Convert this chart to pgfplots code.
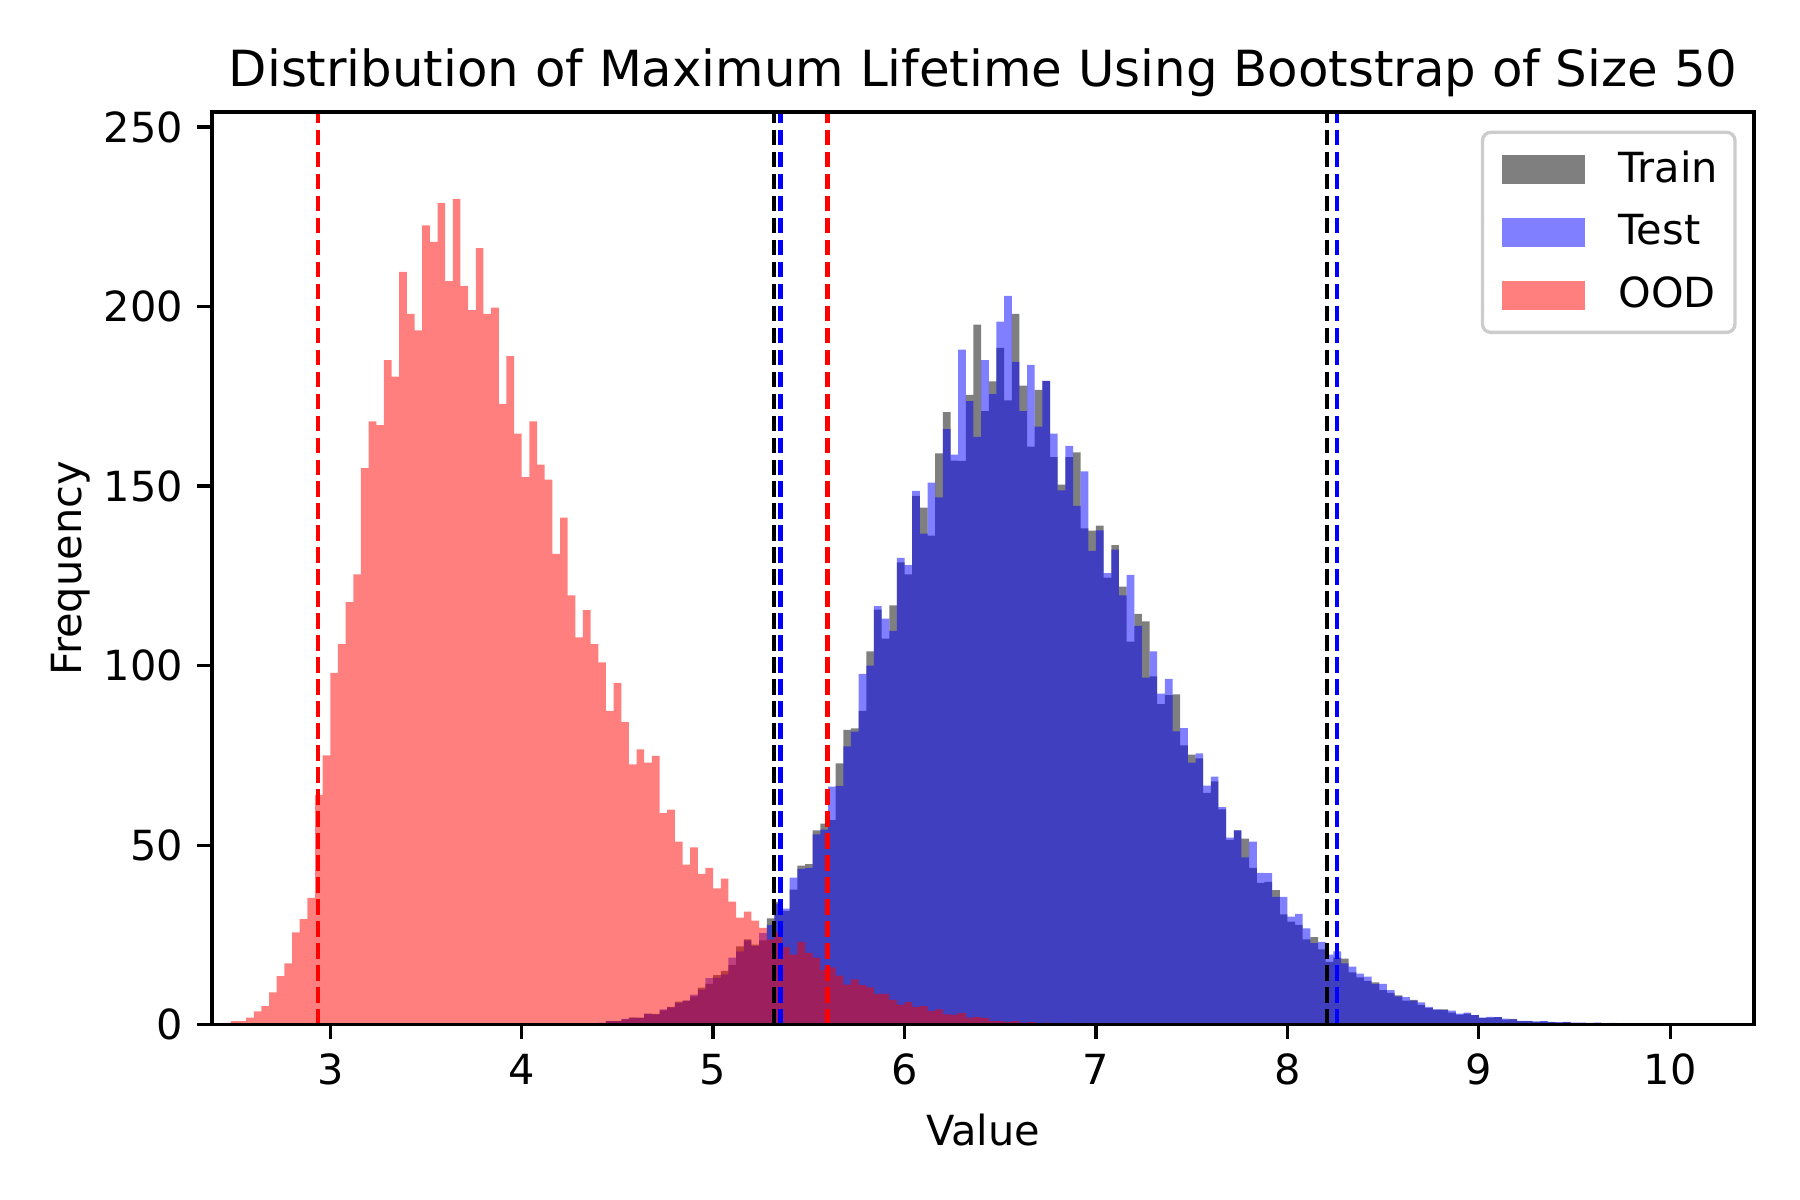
\documentclass[border=0pt]{standalone}
\usepackage{fontspec}
\setmainfont{DejaVu Sans}
\usepackage{pgfplots}
\usepackage{pgfplotstable}
\pgfplotsset{compat=1.18}

% bin left edge, count (bins of width 0.04)
\pgfplotstableread{
x y
4.40 0.5
4.44 1
4.48 1
4.52 1.5
4.56 2
4.60 2
4.64 3
4.68 3
4.72 4
4.76 5
4.80 6.4
4.84 6.7
4.88 7.9
4.92 10.3
4.96 11.4
5.00 13.8
5.04 15
5.08 16.6
5.12 21.8
5.16 23.8
5.20 22.3
5.24 23.5
5.28 29.6
5.32 34.2
5.36 31.7
5.40 37.6
5.44 44.3
5.48 44.7
5.52 54.1
5.56 56
5.60 57
5.64 72.8
5.68 82.1
5.72 82.5
5.76 87.4
5.80 104
5.84 115.6
5.88 107.5
5.92 116.8
5.96 128.8
6.00 125.4
6.04 147.3
6.08 144
6.12 136.2
6.16 159.1
6.20 170.6
6.24 157.1
6.28 157
6.32 175.4
6.36 195
6.40 170.9
6.44 179.2
6.48 188.5
6.52 173.9
6.56 198
6.60 178
6.64 161
6.68 176.8
6.72 179.3
6.76 158.1
6.80 150.4
6.84 158.1
6.88 159.4
6.92 138.2
6.96 137.6
7.00 139
7.04 124.5
7.08 133.6
7.12 122
7.16 106.7
7.20 114.4
7.24 112.3
7.28 97
7.32 89.3
7.36 91.8
7.40 92
7.44 77.8
7.48 75.2
7.52 74.2
7.56 64.6
7.60 67.8
7.64 60
7.68 51.5
7.72 54.1
7.76 51.8
7.80 43.7
7.84 39.5
7.88 39.8
7.92 37.5
7.96 30.7
8.00 28.7
8.04 27.8
8.08 23.8
8.12 24.4
8.16 21
8.20 17.5
8.24 18.7
8.28 18.4
8.32 14.6
8.36 13.2
8.40 12.2
8.44 11.8
8.48 9.6
8.52 8.9
8.56 8.2
8.60 6.7
8.64 6.9
8.68 5.5
8.72 4.6
8.76 4.2
8.80 4.3
8.84 3.4
8.88 2.8
8.92 3.1
8.96 2.7
9.00 1.9
9.04 2
9.08 2.1
9.12 1.4
9.16 1.6
9.20 1
9.24 1
9.28 0.8
9.32 0.9
9.36 0.7
9.40 0.6
9.44 0.7
9.48 0.5
9.52 0.5
9.56 0.4
9.60 0.5
9.64 0.3
9.68 0.4
9.72 0.3
9.76 0.3
9.80 0.2
9.84 0.3
9.88 0.2
9.92 0.2
9.96 0.1
10.00 0.2
10.04 0.2
10.08 0.1
10.12 0.1
10.16 0.1
10.20 0
}\traindata

\pgfplotstableread{
x y
4.40 0.5
4.44 1
4.48 1
4.52 1.6
4.56 2
4.60 1.9
4.64 3.1
4.68 2.9
4.72 4.3
4.76 4.8
4.80 6.1
4.84 6.7
4.88 8.4
4.92 9.8
4.96 13
5.00 13.1
5.04 14
5.08 18.7
5.12 20.4
5.16 23.5
5.20 21.9
5.24 25.5
5.28 27.8
5.32 33.6
5.36 32.3
5.40 41
5.44 43.4
5.48 43.7
5.52 53
5.56 54.3
5.60 66.3
5.64 66.5
5.68 77.5
5.72 81.6
5.76 97.7
5.80 100
5.84 116.6
5.88 113.1
5.92 109.7
5.96 130
6.00 128
6.04 148.7
6.08 136.8
6.12 151
6.16 146.9
6.20 165.9
6.24 158.8
6.28 188
6.32 173.7
6.36 163.7
6.40 185.1
6.44 175.6
6.48 195.8
6.52 203
6.56 184.6
6.60 170.9
6.64 183.8
6.68 166.6
6.72 179.3
6.76 164.6
6.80 148.8
6.84 161.2
6.88 144.5
6.92 154.1
6.96 132
7.00 137.7
7.04 125.8
7.08 132.3
7.12 119.6
7.16 125.3
7.20 111.1
7.24 96.7
7.28 104
7.32 92.2
7.36 96.3
7.40 81.7
7.44 82.6
7.48 73
7.52 75.6
7.56 66.6
7.60 69.1
7.64 60.6
7.68 52.1
7.72 54.1
7.76 46.6
7.80 51
7.84 42.3
7.88 42.2
7.92 35.6
7.96 35.6
8.00 30.1
8.04 30.9
8.08 26.8
8.12 22.7
8.16 23.1
8.20 19.5
8.24 20.4
8.28 17.1
8.32 16.2
8.36 14.2
8.40 13.4
8.44 11.4
8.48 11.4
8.52 9.6
8.56 7.9
8.60 7.7
8.64 6.7
8.68 6.2
8.72 5
8.76 4.3
8.80 4.1
8.84 3.9
8.88 3.1
8.92 3.4
8.96 2.7
9.00 2
9.04 2.2
9.08 2.1
9.12 1.7
9.16 1.5
9.20 1.1
9.24 1.1
9.28 0.9
9.32 1
9.36 0.8
9.40 0.7
9.44 0.8
9.48 0.6
9.52 0.6
9.56 0.5
9.60 0.6
9.64 0.4
9.68 0.5
9.72 0.4
9.76 0.3
9.80 0.3
9.84 0.4
9.88 0.2
9.92 0.3
9.96 0.2
10.00 0.2
10.04 0.2
10.08 0.1
10.12 0.2
10.16 0.1
10.20 0
}\testdata

\pgfplotstableread{
x y
2.44 0.5
2.48 1
2.52 1
2.56 2
2.60 3.7
2.64 5.2
2.68 9
2.72 13.5
2.76 17.1
2.80 25.7
2.84 29.4
2.88 35.3
2.92 64
2.96 75
3.00 98
3.04 106
3.08 117.7
3.12 125.4
3.16 155
3.20 168
3.24 167
3.28 185.1
3.32 180.5
3.36 209.7
3.40 198
3.44 193.4
3.48 222.6
3.52 218
3.56 228.8
3.60 207.1
3.64 230
3.68 205.8
3.72 199
3.76 216.3
3.80 198
3.84 199.7
3.88 172.9
3.92 186.2
3.96 164.6
4.00 152.5
4.04 168
4.08 156
4.12 151.8
4.16 131.1
4.20 141.2
4.24 119.6
4.28 107.9
4.32 115.5
4.36 106
4.40 100.9
4.44 87.4
4.48 95.2
4.52 84.3
4.56 72.5
4.60 76.7
4.64 73
4.68 74.9
4.72 58.9
4.76 59.9
4.80 51
4.84 44.6
4.88 49.4
4.92 42
4.96 43.7
5.00 38
5.04 40.7
5.08 34.3
5.12 29.8
5.16 31.5
5.20 29
5.24 27
5.28 23.8
5.32 25.7
5.36 21.6
5.40 19.5
5.44 23.1
5.48 20
5.52 18.7
5.56 15.2
5.60 16
5.64 13.7
5.68 11.2
5.72 12.6
5.76 11
5.80 10.4
5.84 8.6
5.88 8.6
5.92 6.9
5.96 5.6
6.00 6.3
6.04 5
6.08 5.2
6.12 3.8
6.16 4.3
6.20 2.9
6.24 2.8
6.28 3.2
6.32 2
6.36 2.1
6.40 1.9
6.44 1.1
6.48 1
6.52 0.8
6.56 1
6.60 0.6
6.64 0.7
6.68 0.5
6.72 0.6
6.76 0.4
6.80 0.5
6.84 0.3
6.88 0.4
6.92 0.3
6.96 0.2
7.00 0.3
7.04 0.2
7.08 0.2
7.12 0.1
7.16 0.2
7.20 0
}\ooddata

\begin{document}
\begin{tikzpicture}
\begin{axis}[
    scale only axis,
    width=13.06cm, height=7.73cm,
    xmin=2.382, xmax=10.438,
    ymin=0, ymax=254.2,
    xtick={3,4,5,6,7,8,9,10},
    ytick={0,50,100,150,200,250},
    tick align=outside,
    xtick pos=bottom, ytick pos=left,
    major tick length=3.5pt,
    every tick/.style={black, line width=0.8pt},
    axis line style={line width=0.8pt},
    axis on top,
    /pgf/number format/assume math mode=true,
    tick label style={font=\fontsize{10}{12}\selectfont},
    label style={font=\fontsize{10}{12}\selectfont},
    ylabel style={xshift=0pt, yshift=-3.5pt},
    title style={font=\fontsize{12}{14}\selectfont, yshift=-6pt},
    title={Distribution of Maximum Lifetime Using Bootstrap of Size 50},
    xlabel={Value},
    ylabel={Frequency},
    legend cell align=left,
    legend image code/.code={\path[#1, draw=none, sharp corners] (0pt,-3.5pt) rectangle (20pt,3.5pt);},
    legend style={
        at={(rel axis cs:1,1)}, anchor=north east,
        xshift=-4.2pt, yshift=-4.5pt,
        draw=black!20, line width=0.8pt, rounded corners=2pt,
        fill=white, fill opacity=0.8, text opacity=1,
        font=\fontsize{10}{12}\selectfont,
        inner xsep=4.8pt, inner ysep=2.5pt, row sep=2.2pt,
        /tikz/every even column/.append style={column sep=0pt},
    },
]
\addplot[const plot mark left, draw=none, fill=black, fill opacity=0.5]
    table {\traindata} \closedcycle;
\addlegendentry{\hspace{6pt}Train\kern-2.75pt}
\addplot[const plot mark left, draw=none, fill=blue, fill opacity=0.5]
    table {\testdata} \closedcycle;
\addlegendentry{\hspace{6pt}Test\kern-2.75pt}
\addplot[const plot mark left, draw=none, fill=red, fill opacity=0.5]
    table {\ooddata} \closedcycle;
\addlegendentry{\hspace{6pt}OOD\kern-2.75pt}

% 2.5% / 97.5% bounds
\addplot[forget plot, black, line width=1pt, dash pattern=on 3.7pt off 1.6pt]
    coordinates {(5.316,0) (5.316,254.2)};
\addplot[forget plot, black, line width=1pt, dash pattern=on 3.7pt off 1.6pt]
    coordinates {(8.207,0) (8.207,254.2)};
\addplot[forget plot, blue, line width=1pt, dash pattern=on 3.7pt off 1.6pt]
    coordinates {(5.352,0) (5.352,254.2)};
\addplot[forget plot, blue, line width=1pt, dash pattern=on 3.7pt off 1.6pt]
    coordinates {(8.261,0) (8.261,254.2)};
\addplot[forget plot, red, line width=1pt, dash pattern=on 3.7pt off 1.6pt]
    coordinates {(2.934,0) (2.934,254.2)};
\addplot[forget plot, red, line width=1pt, dash pattern=on 3.7pt off 1.6pt]
    coordinates {(5.597,0) (5.597,254.2)};

\coordinate (bbbl) at (rel axis cs:-0.1375,-0.1917);
\coordinate (bbtr) at (rel axis cs:1.0298,1.1227);
\end{axis}
\path (bbbl) rectangle (bbtr);
\end{tikzpicture}
\end{document}
